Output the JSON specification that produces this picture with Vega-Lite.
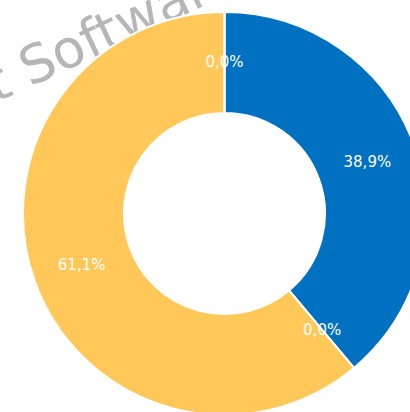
{
  "$schema": "https://vega.github.io/schema/vega-lite/v6.json",
  "width": 410,
  "height": 412,
  "autosize": {"type": "none"},
  "padding": 0,
  "background": "white",
  "config": {"view": {"stroke": null}},
  "data": {
    "values": [
      {"i": 1, "cat": "A", "value": 38.9, "label": "38,9%"},
      {"i": 2, "cat": "B", "value": 0.0, "label": "0,0%"},
      {"i": 3, "cat": "C", "value": 61.1, "label": "61,1%"},
      {"i": 4, "cat": "D", "value": 0.0, "label": "0,0%"}
    ]
  },
  "layer": [
    {
      "data": {"values": [{"wm": "t Software"}]},
      "mark": {"type": "text", "x": -4, "y": 103, "align": "left", "baseline": "alphabetic", "angle": -25, "font": "DejaVu Sans", "fontSize": 53, "color": "#b6b6b6"},
      "encoding": {"text": {"field": "wm"}}
    },
    {
      "mark": {"type": "arc", "outerRadius": 201.5, "innerRadius": 100.5, "xOffset": 19.5, "yOffset": 7.5, "stroke": "white", "strokeWidth": 2},
      "encoding": {
        "theta": {"field": "value", "type": "quantitative", "stack": true},
        "order": {"field": "i", "type": "quantitative"},
        "color": {"field": "cat", "type": "nominal", "legend": null,
          "scale": {"domain": ["A", "B", "C", "D"], "range": ["#0070C0", "#A5A5A5", "#FFC859", "#ED7D31"]}}
      }
    },
    {
      "mark": {"type": "text", "radius": 152, "xOffset": 19.5, "yOffset": 7.5, "font": "DejaVu Sans", "fontSize": 15, "color": "white", "align": "center", "baseline": "middle"},
      "encoding": {
        "theta": {"field": "value", "type": "quantitative", "stack": true},
        "order": {"field": "i", "type": "quantitative"},
        "text": {"field": "label"}
      }
    }
  ]
}
